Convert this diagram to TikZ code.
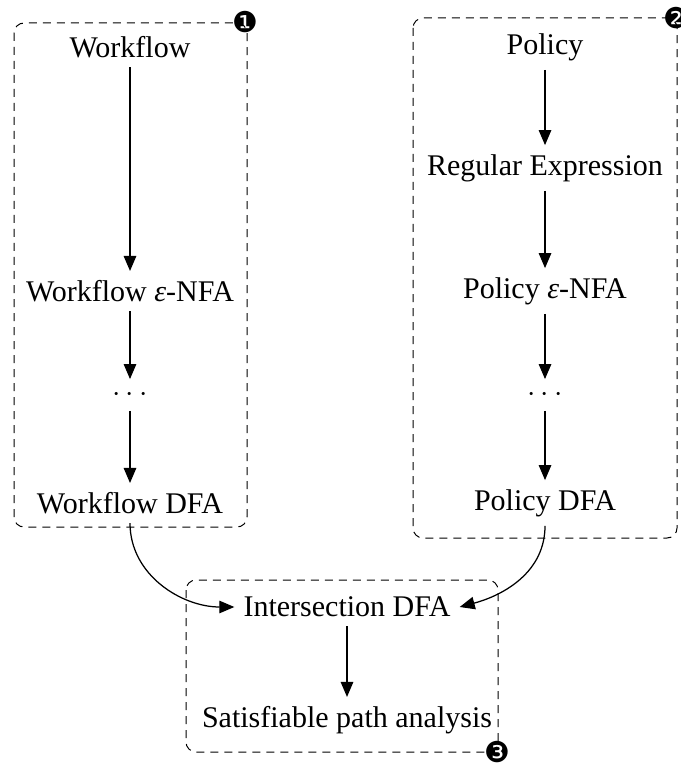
\documentclass[tikz,border=0pt]{standalone}
\usepackage{fontspec}
\setmainfont{Liberation Serif}
\newfontfamily\dingfont{DejaVu Sans}
\usetikzlibrary{arrows.meta}
\tikzset{
  stage/.style={inner sep=3.5pt, font=\fontsize{12}{14}\selectfont},
  flow/.style={-{Triangle[length=6pt,width=5pt]}, line width=0.5pt},
  groupbox/.style={dashed, line width=0.4pt, rounded corners=4pt, dash pattern=on 3.2pt off 2.4pt},
  badge/.style={inner sep=0pt, font=\dingfont\fontsize{11.5}{12}\selectfont}
}
\begin{document}
\begin{tikzpicture}[x=0.4pt,y=-0.4pt]
\useasboundingbox (0,0) rectangle (680,764);
% groups
\draw[groupbox] (14,23) rectangle (247,527);
\draw[groupbox] (413,18) rectangle (677,538);
\draw[groupbox] (186,580) rectangle (498,752);
\node[badge] (b1) at (245,22) {❶};
\node[badge] (b2) at (676,18) {❷};
\node[badge] (b3) at (497,752) {❸};
% workflow chain
\node[stage] (wf) at (130,47) {Workflow};
\node[stage] (wnfa) at (130,291) {Workflow {\itshape ε}-NFA};
\node[stage] (wdots) at (130,395) {$\cdots$};
\node[stage] (wdfa) at (130,503) {Workflow DFA};
% policy chain
\node[stage] (pol) at (545,47) {Policy};
\node[stage] (re) at (545,168) {Regular Expression};
\node[stage] (pnfa) at (545,291) {Policy {\itshape ε}-NFA};
\node[stage] (pdots) at (545,395) {$\cdots$};
\node[stage] (pdfa) at (545,503) {Policy DFA};
% analysis
\node[stage] (inter) at (347,607) {Intersection DFA};
\node[stage] (sat) at (347,720) {Satisfiable path analysis};
% connectors
\draw[flow] (wf) -- (wnfa);
\draw[flow] (wnfa) -- (wdots);
\draw[flow] (wdots) -- (wdfa);
\draw[flow] (pol) -- (re);
\draw[flow] (re) -- (pnfa);
\draw[flow] (pnfa) -- (pdots);
\draw[flow] (pdots) -- (pdfa);
\draw[flow] (wdfa.south) to[out=-90,in=180] (inter.west);
\draw[flow] (pdfa.south) to[out=-90,in=15] (inter.east);
\draw[flow] (inter) -- (sat);
\end{tikzpicture}
\end{document}
